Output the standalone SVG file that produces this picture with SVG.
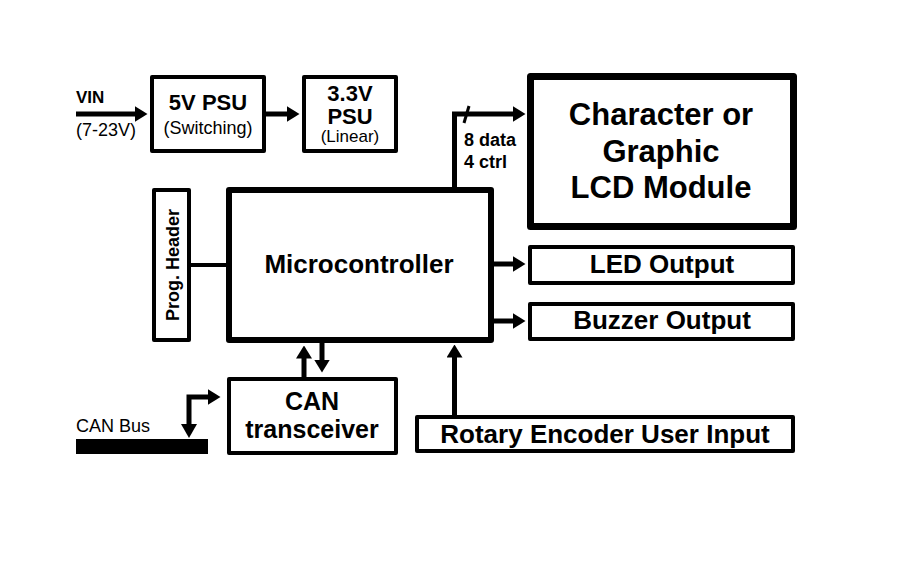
<svg xmlns="http://www.w3.org/2000/svg" width="907" height="567" viewBox="0 0 907 567">
<defs>
<marker id="ah" markerUnits="userSpaceOnUse" markerWidth="13" markerHeight="16" viewBox="0 0 13 16" refX="0.5" refY="8" orient="auto">
<path d="M0,0 L13,8 L0,16 z" fill="#000"/>
</marker>
</defs>
<style>
text{font-family:"Liberation Sans",Arial,sans-serif;fill:#000;text-anchor:middle}
.b{font-weight:bold}
.box{fill:#fff;stroke:#000;stroke-width:4;stroke-linejoin:round}
.conn{fill:none;stroke:#000;stroke-width:5;stroke-linejoin:miter}
.arr{marker-end:url(#ah)}
</style>
<rect width="907" height="567" fill="#fff"/>
<g id="connectors">
<line class="conn arr" x1="76" y1="114" x2="135" y2="114"/>
<line class="conn arr" x1="266" y1="114" x2="287" y2="114"/>
<polyline class="conn arr" points="454.5,190 454.5,114 513,114"/>
<line x1="469" y1="106" x2="464" y2="123" stroke="#000" stroke-width="3"/>
<line class="conn arr" x1="491" y1="264" x2="513" y2="264"/>
<line class="conn arr" x1="491" y1="321" x2="513" y2="321"/>
<line class="conn arr" x1="304" y1="379" x2="304" y2="358"/>
<line class="conn arr" x1="322" y1="340" x2="322" y2="360"/>
<line class="conn arr" x1="454.5" y1="417" x2="454.5" y2="357"/>
<polyline class="conn arr" points="189,424 189,397 208,397"/>
<path d="M181,424 L197,424 L189,438 z" fill="#000"/>
<line x1="189" y1="265" x2="229" y2="265" stroke="#000" stroke-width="4"/>
</g>
<g id="vin">
<text class="b" x="76" y="103" style="text-anchor:start;font-size:17px">VIN</text>
<text x="76" y="136" style="text-anchor:start;font-size:18px">(7-23V)</text>
</g>
<g id="psu5">
<rect class="box" x="152" y="77" width="112" height="74"/>
<text class="b" x="208" y="110" style="font-size:22px">5V PSU</text>
<text x="208" y="134" style="font-size:18px">(Switching)</text>
</g>
<g id="psu33">
<rect class="box" x="304" y="77" width="92" height="74"/>
<text class="b" x="350" y="101" style="font-size:22px">3.3V</text>
<text class="b" x="350" y="124" style="font-size:22px">PSU</text>
<text x="350" y="142" style="font-size:17px">(Linear)</text>
</g>
<g id="buslabel">
<text class="b" x="464" y="146" style="text-anchor:start;font-size:18px">8 data</text>
<text class="b" x="464" y="168" style="text-anchor:start;font-size:18px">4 ctrl</text>
</g>
<g id="lcd">
<rect class="box" x="530.5" y="76.5" width="263" height="150" style="stroke-width:7"/>
<text class="b" x="661" y="125" style="font-size:31px">Character or</text>
<text class="b" x="661" y="162" style="font-size:31px">Graphic</text>
<text class="b" x="661" y="198" style="font-size:31px">LCD Module</text>
</g>
<g id="progheader">
<rect class="box" x="154" y="190" width="35" height="150"/>
<text class="b" transform="translate(179,265) rotate(-90)" x="0" y="0" style="font-size:18px">Prog. Header</text>
</g>
<g id="micro">
<rect class="box" x="229" y="190" width="262" height="150" style="stroke-width:6"/>
<text class="b" x="359" y="273" style="font-size:26px">Microcontroller</text>
</g>
<g id="led">
<rect class="box" x="530" y="247" width="263" height="36"/>
<text class="b" x="662" y="273" style="font-size:26px">LED Output</text>
</g>
<g id="buzzer">
<rect class="box" x="530" y="304" width="263" height="35"/>
<text class="b" x="662" y="329" style="font-size:26px">Buzzer Output</text>
</g>
<g id="can">
<rect class="box" x="229" y="379" width="167" height="74"/>
<text class="b" x="312" y="410" style="font-size:25px">CAN</text>
<text class="b" x="312" y="438" style="font-size:25px">transceiver</text>
</g>
<g id="rotary">
<rect class="box" x="417" y="417" width="376" height="34"/>
<text class="b" x="605" y="443" style="font-size:26px">Rotary Encoder User Input</text>
</g>
<g id="canbus">
<rect x="76" y="439" width="132" height="15" fill="#000"/>
<text x="76" y="432" style="text-anchor:start;font-size:18px">CAN Bus</text>
</g>
</svg>
